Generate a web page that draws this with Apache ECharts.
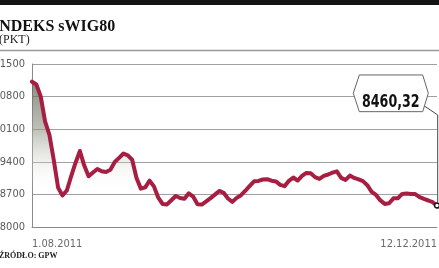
<!DOCTYPE html>
<html><head><meta charset="utf-8">
<script src="https://cdn.jsdelivr.net/npm/echarts@6/dist/echarts.min.js"></script>
<style>html,body{margin:0;padding:0;background:#fff;overflow:hidden;}#c{width:439px;height:268px;}</style>
</head><body><div id="c"></div>
<script>
const titleText = 'INDEKS sWIG80';
const unitText = '(PKT)';
const sourceText = 'ŹRÓDŁO: GPW';
const xTickLabels = ['1.08.2011', '12.12.2011'];
const yTicks = [8000, 8700, 9400, 10100, 10800, 11500];
const values = [
  11120, 11060, 10806, 10267, 9977, 9438, 8844, 8678, 8784, 9093,
  9380, 9632, 9318, 9089, 9170, 9245, 9196, 9181, 9228, 9396,
  9484, 9578, 9537, 9445, 9054, 8824, 8852, 8994, 8872, 8629,
  8494, 8485, 8575, 8666, 8623, 8605, 8724, 8653, 8487, 8483,
  8550, 8620, 8696, 8775, 8734, 8612, 8539, 8625, 8683, 8779,
  8882, 8981, 8990, 9020, 9026, 8994, 8979, 8904, 8878, 8992,
  9063, 8998, 9097, 9162, 9155, 9071, 9033, 9099, 9127, 9166,
  9196, 9054, 9011, 9104, 9054, 9024, 8985, 8897, 8756, 8689,
  8571, 8496, 8509, 8616, 8616, 8711, 8717, 8709, 8706, 8642,
  8603, 8569, 8532, 8460.32
];

const Y_BASE = yTicks[0];
const Y_STEP = yTicks[1] - yTicks[0];
const n = values.length;
const categories = values.map((_, i) => String(i));
const plotData = values.map(v => v - Y_BASE);
const lastLabel = values[n - 1].toFixed(2).replace('.', ',');

const chart = echarts.init(document.getElementById('c'), null, {renderer: 'canvas'});
const axisFont = "'DejaVu Sans Condensed', 'Liberation Sans Narrow', sans-serif";

chart.setOption({
  animation: false,
  backgroundColor: '#fff',
  grid: {left: 32, right: 2, top: 64, bottom: 41, containLabel: false, outerBoundsMode: 'none'},
  xAxis: {
    type: 'category',
    data: categories,
    boundaryGap: false,
    axisLine: {show: true, lineStyle: {color: '#8a8a8a', width: 1}},
    axisTick: {show: false},
    splitLine: {show: false},
    axisLabel: {
      show: true,
      interval: (idx) => idx === 0 || idx === n - 1,
      showMinLabel: true,
      showMaxLabel: true,
      alignMinLabel: 'left',
      alignMaxLabel: 'right',
      formatter: (v, idx) => idx === 0 ? xTickLabels[0] : (idx === n - 1 ? xTickLabels[1] : ''),
      color: '#6a6a6a',
      fontFamily: axisFont,
      fontSize: 11,
      margin: 12
    }
  },
  yAxis: {
    type: 'value',
    min: 0,
    max: (yTicks.length - 1) * Y_STEP,
    interval: Y_STEP,
    axisLine: {show: true, lineStyle: {color: '#8a8a8a', width: 1}},
    axisTick: {show: false},
    splitLine: {show: true, lineStyle: {color: '#a0a0a0', width: 1}},
    axisLabel: {
      formatter: (v) => String(yTicks[Math.round(v / Y_STEP)]),
      color: '#5a5a5a',
      fontFamily: axisFont,
      fontSize: 11,
      margin: 7
    }
  },
  series: [{
    type: 'line',
    data: plotData,
    showSymbol: false,
    smooth: false,
    lineStyle: {color: '#a61e41', width: 4, join: 'round', cap: 'round'},
    areaStyle: {
      origin: 'start',
      color: {
        type: 'linear', x: 0, y: 80, x2: 0, y2: 192, global: true,
        colorStops: [
          {offset: 0, color: 'rgba(85,90,72,1)'},
          {offset: 0.45, color: 'rgba(155,158,145,0.9)'},
          {offset: 1, color: 'rgba(255,255,255,0)'}
        ]
      }
    },
    markPoint: {
      symbol: 'circle',
      symbolSize: 5,
      itemStyle: {color: '#fff', borderColor: '#111', borderWidth: 1.5},
      label: {show: false},
      data: [{coord: [n - 1, plotData[n - 1]]}]
    }
  }]
});

const pt = chart.convertToPixel({gridIndex: 0}, [n - 1, plotData[n - 1]]);
chart.setOption({
  graphic: [
    {id: 'topbar', type: 'rect', shape: {x: 0, y: 0, width: 439, height: 5}, style: {fill: '#141414'}},
    {id: 'sep', type: 'line', shape: {x1: 0, y1: 50.5, x2: 439, y2: 50.5}, style: {stroke: '#9a9a9a', lineWidth: 1.5}},
    {id: 'title', type: 'text', x: -7, y: 19, style: {text: titleText, font: "bold 16px 'Liberation Serif', serif", fill: '#111', stroke: null, lineWidth: 0, textBaseline: 'middle'}},
    {id: 'unit', type: 'text', x: -1, y: 34, style: {text: unitText, font: "12px 'Liberation Serif', serif", fill: '#222', stroke: null, lineWidth: 0, textBaseline: 'middle'}},
    {id: 'source', type: 'text', x: -1, y: 251.5, style: {text: sourceText, font: "bold 8px 'Liberation Serif', serif", fill: '#222', stroke: null, lineWidth: 0, textBaseline: 'middle'}},
    {
      id: 'callout', type: 'group', x: pt[0], y: pt[1], z: 100,
      children: [
        {type: 'polyline', shape: {points: [[-12.5, -99.5], [0.7, -90.6], [0.7, -3]]}, style: {stroke: '#444', lineWidth: 1, fill: null}},
        {type: 'polygon', shape: {points: [[-83.7, -112.3], [-77.7, -130.6], [-14.3, -130.6], [-8.7, -112.3], [-14.3, -93.9], [-77.7, -93.9]]}, style: {fill: '#fff', stroke: '#666', lineWidth: 1}},
        {type: 'text', x: -46.2, y: -112, scaleX: 0.78, style: {text: lastLabel, font: "bold 18px 'DejaVu Sans Condensed', sans-serif", fill: '#111', stroke: null, lineWidth: 0, textAlign: 'center', textBaseline: 'middle'}}
      ]
    }
  ]
});
</script>
</body></html>
